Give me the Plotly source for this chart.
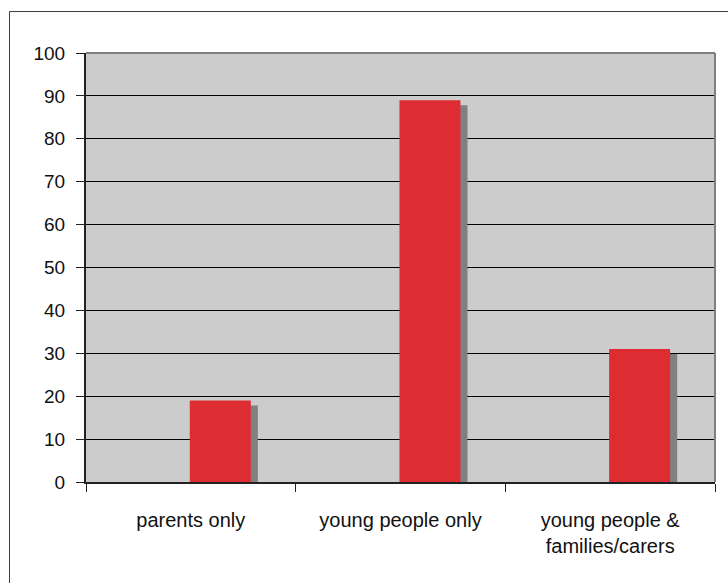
import plotly.graph_objects as go

categories = ["parents only", "young people only", "young people &<br>families/carers"]
values = [19, 89, 31]
y_ticks = list(range(0, 101, 10))

bar_color = "#de2c33"
shadow_color = "#808080"
font_family = "Liberation Sans Narrow, Arial Narrow, Liberation Sans, Arial, sans-serif"

# plot area geometry (px)
L, R, T, B = 86, 13, 53, 101
W, H = 728, 583
pw, ph = W - L - R, H - T - B
cat_px = pw / len(categories)
unit_px = ph / 100.0

bar_w = 61 / cat_px
shadow_dx = 6 / cat_px
shadow_dy = 5 / unit_px

fig = go.Figure()
fig.add_trace(go.Bar(
    x=categories, y=[v - shadow_dy for v in values],
    width=bar_w, offset=shadow_dx,
    marker=dict(color=shadow_color, line=dict(width=0)),
    hoverinfo="skip", showlegend=False,
))
fig.add_trace(go.Bar(
    x=categories, y=values,
    width=bar_w, offset=-0.005,
    marker=dict(color=bar_color, line=dict(width=0)),
    showlegend=False,
))

fig.update_layout(
    width=W, height=H,
    margin=dict(l=L, r=R, t=T, b=B, pad=0),
    paper_bgcolor="white",
    plot_bgcolor="#cccccc",
    barmode="overlay",
    font=dict(family=font_family, size=19, color="#111111"),
    xaxis=dict(
        type="category",
        range=[-0.5, 2.5],
        showgrid=False,
        showline=True, linecolor="#222222", linewidth=2,
        ticks="outside", tickson="boundaries", ticklen=8, tickcolor="#222222", tickwidth=1,
        tickfont=dict(family=font_family, size=20, color="#111111"),
        ticklabelstandoff=19,
        fixedrange=True,
    ),
    yaxis=dict(
        range=[0, 100],
        tickvals=y_ticks,
        ticktext=[str(t) for t in y_ticks],
        showgrid=True, gridcolor="#000000", gridwidth=1,
        showline=True, linecolor="#222222", linewidth=2,
        ticks="outside", ticklen=8, tickcolor="#222222", tickwidth=1,
        tickfont=dict(family=font_family, size=19, color="#111111"),
        ticklabelstandoff=7,
        zeroline=False,
        fixedrange=True,
    ),
    shapes=[
        # plot area top/right border
        dict(type="line", xref="paper", yref="paper", x0=0, x1=1, y0=1, y1=1,
             line=dict(color="#808080", width=2), layer="above"),
        dict(type="line", xref="paper", yref="paper", x0=1, x1=1, y0=0, y1=1,
             line=dict(color="#808080", width=2), layer="above"),
        # outer chart frame
        dict(type="rect", xref="paper", yref="paper",
             x0=(9.5 - L) / pw, x1=1.2, y0=-0.5, y1=(H - B - 11.5) / ph,
             line=dict(color="#404040", width=1), fillcolor="rgba(0,0,0,0)", layer="below"),
    ],
)

fig.write_html("out.html")
